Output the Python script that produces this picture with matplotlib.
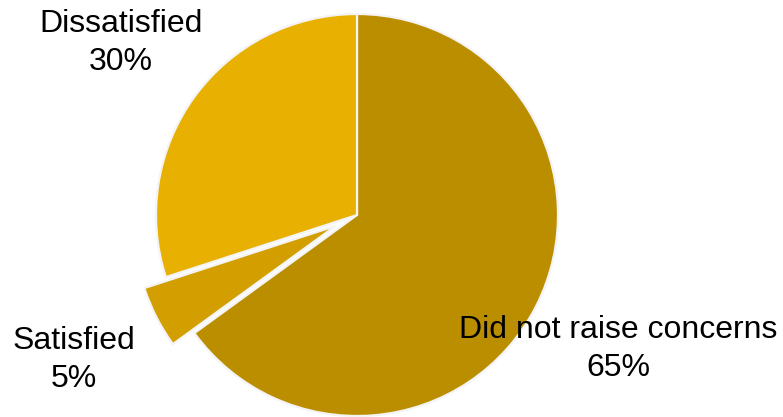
import matplotlib
matplotlib.use("Agg")
import matplotlib.pyplot as plt

# data
labels = ["Did not raise concerns", "Satisfied", "Dissatisfied"]
shares = [65, 5, 30]
colors = ["#BB8E00", "#D29E00", "#E8B000"]

plt.rcParams['font.family'] = ['Liberation Sans', 'DejaVu Sans']

fig = plt.figure(figsize=(7.83, 4.17), dpi=100)
ax = fig.add_axes([0, 0, 1, 1])

# axes units are pixels, so the pie radius and the explode offset are in px
R = 201
pull = [0, 0.12 * R, 0]

wedges, _ = ax.pie(shares, colors=colors, explode=pull, startangle=90,
                   counterclock=False, center=(357, 202), radius=R,
                   wedgeprops=dict(edgecolor='#F4F4F4', linewidth=1.6),
                   frame=True)
ax.set_xlim(0, 783)
ax.set_ylim(0, 417)
ax.set_aspect('equal')
ax.axis('off')

# labels placed like the original callouts
label_pos = [(618, 68), (74, 57), (121, 374)]
for name, val, (x, y) in zip(labels, shares, label_pos):
    ax.text(x, y, "{}\n{}%".format(name, val), ha='center', va='center',
            fontsize=23, color='black', linespacing=1.35)

plt.savefig("out.png", dpi=100)
